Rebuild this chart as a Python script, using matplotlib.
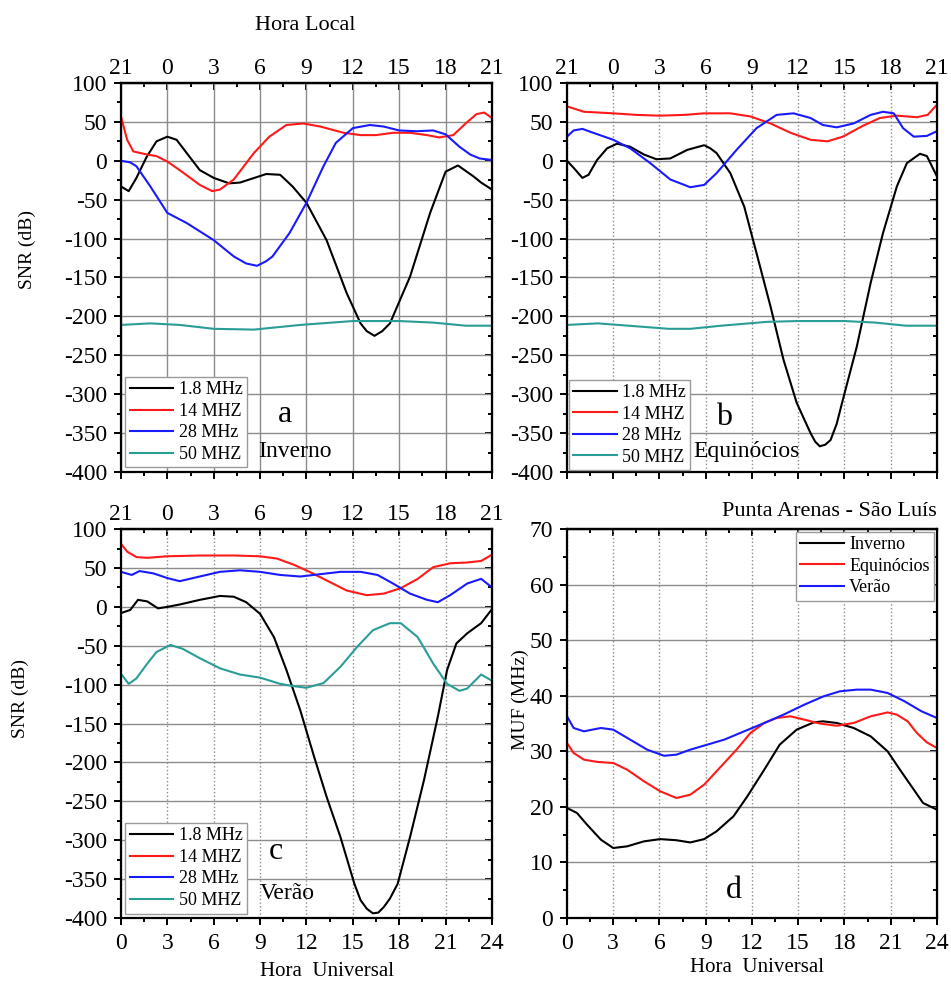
"""SNR e MUF para o enlace Punta Arenas - Sao Luis"""
import numpy as np
import matplotlib
matplotlib.use("Agg")
import matplotlib.pyplot as plt
from matplotlib.ticker import MultipleLocator

plt.rcParams['font.family'] = ['Liberation Serif', 'DejaVu Serif']

# ---------------- dados ----------------
# a) Inverno
a_18_ut = [0, 0.5, 1.0, 1.66, 2.3, 3, 3.6, 4.25, 5.1, 6, 7, 7.7, 9.4, 10.3, 11.1, 12, 13.3,
           14.6, 15.5, 15.9, 16.4, 16.9, 17.4, 18.7, 20, 21, 21.8, 22.8, 23.3, 24]
a_18_snr = [-33, -39, -22, 5, 25, 31, 27, 10, -12, -22, -29, -28, -17, -18, -33, -54, -102,
            -170, -209, -219, -225, -219, -209, -149, -67, -14, -6, -20, -28, -37]
a_14_ut = [0, 0.4, 0.8, 1.7, 2.3, 3, 3.8, 5.1, 5.9, 6.4, 7.3, 8.6, 9.6, 10.7, 11.8, 12.9,
           14.4, 15.5, 16.5, 17.6, 18.7, 19.8, 20.6, 21.5, 22.3, 23, 23.5, 24]
a_14_snr = [57, 27, 12, 8, 6, -1, -12, -31, -39, -37, -24, 10, 31, 46, 48, 44,
            36, 33, 33, 36, 36, 33, 30, 33, 48, 60, 62, 55]
a_28_ut = [0, 0.6, 1, 1.9, 3, 4.25, 6, 7.3, 8.1, 8.8, 9.4, 9.8, 10.9, 12, 13.1, 13.9, 15,
           16.1, 17, 18, 19.1, 20.2, 21, 21.9, 22.6, 23.2, 24]
a_28_snr = [0, -2, -7, -33, -67, -80, -102, -123, -132, -135, -129, -123, -93, -54, -7, 23,
            42, 46, 44, 39, 38, 39, 34, 18, 8, 3, 1]
a_50_ut = [0, 1.9, 3.8, 6, 8.6, 11.6, 15, 18, 20.2, 22.3, 24]
a_50_snr = [-211, -209, -211, -216, -217, -211, -206, -206, -208, -212, -212]

# b) Equinocios
b_18_ut = [0, 0.43, 1, 1.4, 1.95, 2.6, 3.25, 4.1, 5, 5.8, 6.7, 7.8, 8.9, 9.3, 9.7, 10.6,
           11.5, 12.3, 13.2, 14.05, 14.9, 15.8, 16.1, 16.4, 16.75, 17.1, 17.5, 17.9, 18.8,
           19.7, 20.5, 21.4, 22.05, 22.9, 23.35, 24]
b_18_snr = [0, -9, -22, -18, 1, 16, 22, 18, 8, 2, 3, 14, 20, 16, 10, -16,
            -59, -119, -187, -256, -311, -350, -361, -367, -365, -359, -338, -307, -239,
            -157, -93, -33, -3, 9, 6, -20]
b_14_ut = [0, 1.1, 3, 4.5, 6, 7.6, 8.9, 10.6, 11.9, 13.2, 14.5, 15.8, 16.9, 17.9, 19.2,
           20.3, 21.4, 22.7, 23.4, 24]
b_14_snr = [70, 63, 61, 59, 58, 59, 61, 61, 57, 48, 36, 27, 25, 31, 45,
            55, 58, 56, 59, 72]
b_28_ut = [0, 0.43, 1, 1.7, 3, 4.1, 5.4, 6.7, 8, 8.9, 9.7, 11, 12.3, 13.6, 14.7, 15.8,
           16.6, 17.5, 18.6, 19.7, 20.5, 21.2, 21.8, 22.5, 23.35, 24]
b_28_snr = [31, 39, 41, 36, 27, 16, -3, -24, -34, -31, -16, 14, 42, 59, 61, 55,
            46, 43, 48, 59, 63, 61, 42, 31, 32, 38]
b_50_ut = [0, 2, 4, 6.6, 8, 10, 13, 15, 18, 20, 22, 24]
b_50_snr = [-211, -209, -212, -216, -216, -212, -207, -206, -206, -208, -212, -212]

# c) Verao
c_18_ut = [0, 0.6, 1.1, 1.7, 2.4, 3, 3.8, 5.1, 6.4, 7.3, 8.1, 9, 9.9, 10.7, 11.6, 12.5,
           13.3, 14.2, 15.1, 15.5, 15.9, 16.3, 16.65, 17, 17.4, 17.9, 18.7, 19.6, 20.5,
           21.1, 21.7, 22.4, 23.3, 24]
c_18_snr = [-8, -4, 9, 7, -2, 0, 3, 9, 14, 13, 6, -9, -39, -81, -133, -193,
            -244, -296, -356, -377, -388, -394, -393, -386, -375, -356, -296, -223, -141,
            -81, -47, -34, -21, -3]
c_14_ut = [0, 0.4, 1, 1.7, 3, 5.1, 7.3, 9, 10.1, 11.2, 12.2, 13.3, 14.6, 15.9, 17, 18.1,
           19.2, 20.2, 21.3, 22.4, 23.3, 24]
c_14_snr = [81, 71, 64, 63, 65, 66, 66, 65, 62, 54, 45, 34, 21, 15, 17, 24,
            36, 51, 56, 57, 59, 67]
c_28_ut = [0, 0.7, 1.2, 2.1, 3, 3.8, 5.1, 6.4, 7.7, 9, 10.3, 11.6, 12.9, 14.2, 15.5,
           16.6, 17.6, 18.7, 19.8, 20.5, 21.3, 22.4, 23.3, 24]
c_28_snr = [45, 41, 46, 43, 37, 33, 39, 45, 47, 45, 41, 39, 42, 45, 45,
            41, 30, 17, 9, 6, 15, 30, 36, 25]
c_50_ut = [0, 0.5, 1, 1.7, 2.3, 3.2, 4, 5.1, 6.4, 7.7, 9, 10.3, 11.2, 12, 13.1, 14.2,
           15.3, 16.3, 17.4, 18.1, 19.2, 20.2, 21.1, 21.9, 22.4, 23.3, 24]
c_50_snr = [-86, -99, -92, -73, -58, -49, -54, -66, -79, -87, -91, -99, -102, -104, -98, -77,
            -51, -30, -21, -21, -39, -73, -99, -108, -105, -87, -95]

# d) MUF
d_inv_ut = [0, 0.65, 1.3, 2.2, 3, 3.9, 5, 6.05, 7.1, 8, 8.9, 9.7, 10.8, 11.7, 12.8, 13.8,
            14.9, 16, 16.6, 17.5, 18.6, 19.7, 20.8, 21.6, 22.5, 23.1, 24]
d_inv_muf = [19.8, 18.9, 16.8, 14.1, 12.6, 12.9, 13.8, 14.2, 14.0, 13.6, 14.2, 15.6, 18.3,
             21.9, 26.7, 31.2, 33.9, 35.2, 35.4, 35.1, 34.2, 32.7, 30.0, 26.7, 23.1, 20.7, 19.5]
d_equ_ut = [0, 0.43, 1.1, 1.95, 3, 3.9, 5, 6.05, 7.1, 8, 8.9, 9.9, 11, 11.9, 12.8, 13.6,
            14.5, 15.4, 16.4, 17.5, 18.6, 19.7, 20.8, 21.4, 22.1, 22.7, 23.35, 24]
d_equ_muf = [31.5, 29.7, 28.5, 28.1, 27.9, 26.7, 24.6, 22.8, 21.6, 22.2, 24.0, 27.0, 30.3,
             33.3, 35.1, 36.0, 36.3, 35.7, 35.0, 34.6, 35.1, 36.3, 37.0, 36.6, 35.4, 33.3,
             31.6, 30.6]
d_ver_ut = [0, 0.43, 1.1, 2.2, 3, 4.1, 5.2, 6.3, 7.1, 8, 9.1, 10.2, 11.5, 12.8, 14.05,
            15.4, 16.65, 17.7, 18.8, 19.7, 20.8, 21.9, 23, 24]
d_ver_muf = [36.3, 34.2, 33.6, 34.2, 33.9, 32.1, 30.3, 29.2, 29.4, 30.3, 31.2, 32.1, 33.6,
             35.1, 36.6, 38.4, 39.9, 40.8, 41.1, 41.1, 40.5, 39.0, 37.2, 36.0]

hora_ut = list(range(0, 25, 3))
hora_local = ['21', '0', '3', '6', '9', '12', '15', '18', '21']
freqs = ['1.8 MHz', '14 MHZ', '28 MHz', '50 MHZ']
estacoes = ['Inverno', 'Equinócios', 'Verão']

PRETO = 'black'
VERMELHO = '#ff1a1a'
AZUL = '#1a1aff'
VERDE = '#2a9d96'
CORES = [PRETO, VERMELHO, AZUL, VERDE]
LW = 1.5
TAM_TICK = 17

fig = plt.figure(figsize=(9.51, 9.81), dpi=100)
ax_a = fig.add_axes([0.1272, 0.5189, 0.3901, 0.3965])
ax_b = fig.add_axes([0.5962, 0.5189, 0.3890, 0.3965])
ax_c = fig.add_axes([0.1272, 0.0642, 0.3901, 0.3965])
ax_d = fig.add_axes([0.5962, 0.0642, 0.3890, 0.3965])


def formatar(ax, vert_estilo, ymin, ymax, ymaj, ymin_loc, topo=True, base=False):
    """Eixos no estilo da figura original"""
    ax.set_xlim(0, 24)
    ax.set_ylim(ymin, ymax)
    ax.xaxis.set_major_locator(MultipleLocator(3))
    ax.xaxis.set_minor_locator(MultipleLocator(1.5))
    ax.yaxis.set_major_locator(MultipleLocator(ymaj))
    ax.yaxis.set_minor_locator(MultipleLocator(ymin_loc))
    ax.grid(True, axis='y', which='major', color='#8c8c8c', lw=1.0, ls='-')
    ax.grid(True, axis='x', which='major', color='#8c8c8c', lw=1.0, ls=vert_estilo)
    ax.set_axisbelow(True)
    for s in ax.spines.values():
        s.set_linewidth(1.6)
    ax.tick_params(axis='both', which='both', width=1.4, labelsize=TAM_TICK)
    ax.tick_params(axis='x', which='both', direction='out', pad=6, top=False)
    ax.tick_params(axis='y', which='both', direction='out', pad=5, right=False)
    ax.tick_params(which='major', length=5)
    ax.tick_params(which='minor', length=3)
    ax.tick_params(axis='x', which='both', labelbottom=base)
    ax.set_yticks(ax.get_yticks())
    ax.set_yticklabels([str(int(v)) for v in ax.get_yticks()])
    ax.set_ylim(ymin, ymax)
    if base:
        ax.set_xticks(hora_ut)
        ax.set_xticklabels([str(h) for h in hora_ut])
    sec = ax.secondary_xaxis('top')
    sec.set_xticks(hora_ut)
    sec.set_xticklabels(hora_local if topo else [])
    sec.xaxis.set_minor_locator(MultipleLocator(1.5))
    sec.tick_params(which='major', direction='in', length=5, width=1.4,
                    labelsize=TAM_TICK, pad=3)
    sec.tick_params(which='minor', direction='in', length=3, width=1.4)
    sec.spines['top'].set_linewidth(1.6)
    sec_d = ax.secondary_yaxis('right')
    sec_d.yaxis.set_major_locator(MultipleLocator(ymaj))
    sec_d.yaxis.set_minor_locator(MultipleLocator(ymin_loc))
    sec_d.set_yticklabels([])
    sec_d.tick_params(which='major', direction='in', length=5, width=1.4)
    sec_d.tick_params(which='minor', direction='in', length=3, width=1.4)


def legenda(ax, linhas, rotulos, **kw):
    leg = ax.legend(linhas, rotulos, fontsize=13, frameon=True, fancybox=False,
                    edgecolor='#9a9a9a', framealpha=1, handlelength=2.4,
                    handletextpad=0.3, labelspacing=0.25, borderpad=0.25, **kw)
    leg.get_frame().set_linewidth(1.0)
    return leg


paineis = [
    (ax_a, '-', [(a_18_ut, a_18_snr), (a_14_ut, a_14_snr), (a_28_ut, a_28_snr), (a_50_ut, a_50_snr)],
     'a', (10.6, -326), 'Inverno', (8.9, -374)),
    (ax_b, ':', [(b_18_ut, b_18_snr), (b_14_ut, b_14_snr), (b_28_ut, b_28_snr), (b_50_ut, b_50_snr)],
     'b', (10.2, -330), 'Equinócios', (8.2, -374)),
    (ax_c, ':', [(c_18_ut, c_18_snr), (c_14_ut, c_14_snr), (c_28_ut, c_28_snr), (c_50_ut, c_50_snr)],
     'c', (10.0, -315), 'Verão', (9.0, -369)),
]

for ax, estilo, series, letra, pos_l, nome, pos_n in paineis:
    linhas = []
    for (ut, snr), cor in zip(series, CORES):
        ln, = ax.plot(ut, snr, color=cor, lw=LW, solid_joinstyle='round')
        linhas.append(ln)
    formatar(ax, estilo, -400, 100, 50, 25, topo=True, base=(ax is ax_c))
    ax.text(pos_l[0], pos_l[1], letra, fontsize=23, ha='center', va='center')
    ax.text(pos_n[0], pos_n[1], nome, fontsize=17, ha='left', va='center')
    if ax is ax_b:
        legenda(ax, linhas, freqs, loc='lower left', borderaxespad=0.1)
    else:
        legenda(ax, linhas, freqs, loc='lower left', borderaxespad=0.25)

# painel d
linhas_d = []
for ut, muf, cor in [(d_inv_ut, d_inv_muf, PRETO), (d_equ_ut, d_equ_muf, VERMELHO),
                     (d_ver_ut, d_ver_muf, AZUL)]:
    ln, = ax_d.plot(ut, muf, color=cor, lw=LW, solid_joinstyle='round')
    linhas_d.append(ln)
formatar(ax_d, ':', 0, 70, 10, 5, topo=False, base=True)
ax_d.text(10.8, 5.0, 'd', fontsize=23, ha='center', va='center')
legenda(ax_d, linhas_d, estacoes, loc='upper right', borderaxespad=0.15)
ax_d.text(1.0, 1.044, 'Punta Arenas - São Luís', transform=ax_d.transAxes,
          fontsize=16, ha='right', va='center')

# rotulos
fig.text(305 / 951, 1 - 25 / 981, 'Hora Local', fontsize=16, ha='center', va='center')
fig.text(27 / 951, 1 - 250 / 981, 'SNR (dB)', fontsize=14, rotation=90, ha='center', va='center')
fig.text(20 / 951, 1 - 698 / 981, 'SNR (dB)', fontsize=14, rotation=90, ha='center', va='center')
fig.text(520 / 951, 1 - 700 / 981, 'MUF (MHz)', fontsize=14, rotation=90, ha='center', va='center')
fig.text(327 / 951, 1 - 971 / 981, 'Hora  Universal', fontsize=15, ha='center', va='center')
fig.text(757 / 951, 1 - 967 / 981, 'Hora  Universal', fontsize=15, ha='center', va='center')

fig.savefig('out.png', dpi=100)
